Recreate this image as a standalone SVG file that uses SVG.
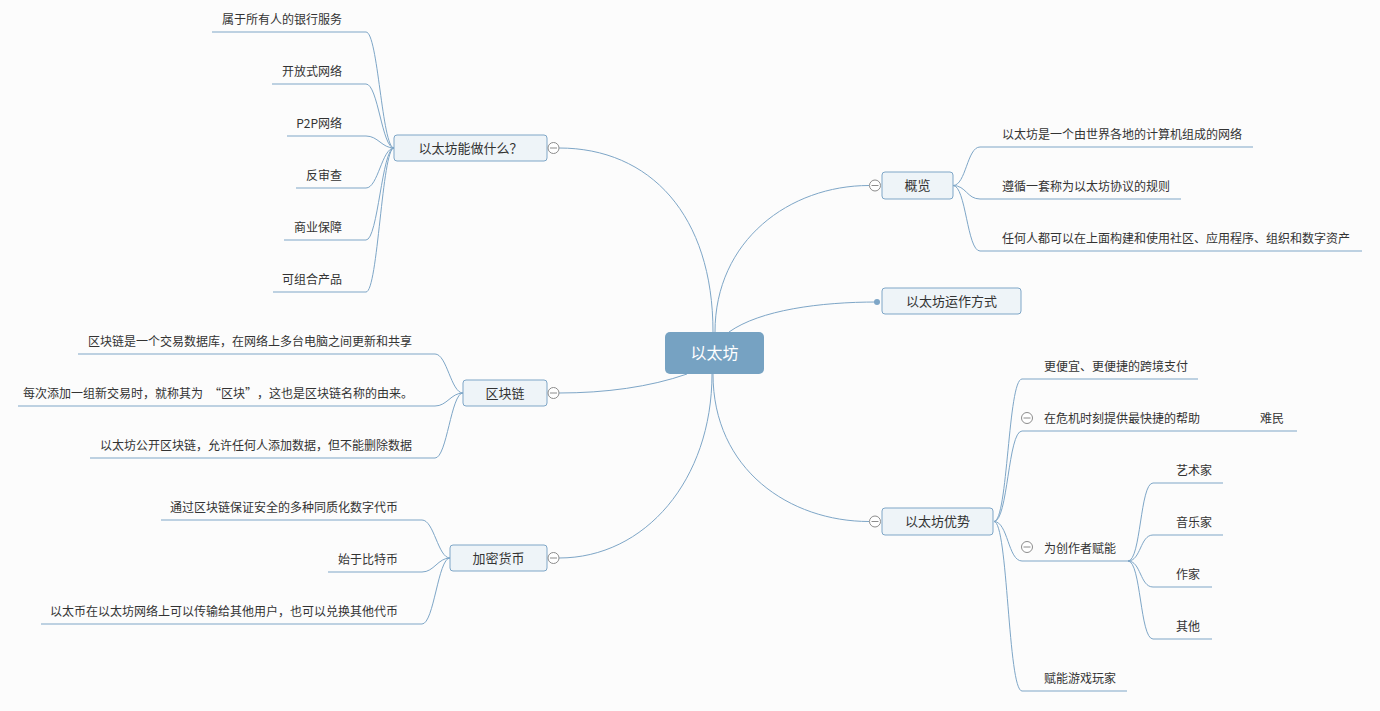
<svg xmlns="http://www.w3.org/2000/svg" width="1380" height="711" viewBox="0 0 1380 711">
<style>
.bg{fill:#fcfcfc}
.ln{fill:none;stroke:#7ea6c7;stroke-width:1}
.topic{fill:#eef4f8;stroke:#7ea6c7;stroke-width:1}
.center{fill:#76a2c2}
.tt{font-family:"Noto Sans CJK SC","Noto Sans",sans-serif;font-size:13px;fill:#333;text-anchor:middle}
.ct{font-family:"Noto Sans CJK SC","Noto Sans",sans-serif;font-size:16px;fill:#ffffff;text-anchor:middle}
.st{font-family:"Noto Sans CJK SC","Noto Sans",sans-serif;font-size:12px;fill:#333}
.end{text-anchor:end}
.col circle{fill:#fff;stroke:#8c8c8c;stroke-width:1}
.col line{stroke:#8c8c8c;stroke-width:1}
</style>
<defs>
<g id="minus" class="col"><circle cx="0" cy="0" r="5.5"/><line x1="-3.5" y1="0" x2="3.5" y2="0"/></g>
</defs>
<rect class="bg" x="0" y="0" width="1380" height="711"/>

<g id="connectors">
  <path class="ln" d="M713,332 C713,215 650,148 559,148"/>
  <path class="ln" d="M687,374 C650,387 605,393 559,393"/>
  <path class="ln" d="M712,374 C712,480 645,558 559,558"/>
  <path class="ln" d="M715,332 C715,240 790,185.5 869,185.5"/>
  <path class="ln" d="M729,332 C760,310 820,302 877,302"/>
  <path class="ln" d="M713,374 C713,470 790,521.5 869,521.5"/>
  <path class="ln" d="M394,148 C382,148 378,32 366,32 H212"/>
  <path class="ln" d="M394,148 C382,148 378,84 366,84 H272"/>
  <path class="ln" d="M394,148 C382,148 378,136 366,136 H287"/>
  <path class="ln" d="M394,148 C382,148 378,188 366,188 H296"/>
  <path class="ln" d="M394,148 C382,148 378,240 366,240 H284"/>
  <path class="ln" d="M394,148 C382,148 378,292 366,292 H273"/>
  <path class="ln" d="M463,393 C451,393 447,354 435,354 H78"/>
  <path class="ln" d="M463,393 C451,393 447,406 435,406 H18"/>
  <path class="ln" d="M463,393 C451,393 447,458 435,458 H90"/>
  <path class="ln" d="M450,558 C438,558 434,520 422,520 H161"/>
  <path class="ln" d="M450,558 C438,558 434,572 422,572 H328"/>
  <path class="ln" d="M450,558 C438,558 434,624 422,624 H41"/>
  <path class="ln" d="M953,185.5 C966,185.5 967,147 980,147 H1253"/>
  <path class="ln" d="M953,185.5 C966,185.5 967,199 980,199 H1181"/>
  <path class="ln" d="M953,185.5 C966,185.5 967,251 980,251 H1362"/>
  <path class="ln" d="M994,521.5 C1008,521.5 1008,379 1022,379 H1198"/>
  <path class="ln" d="M994,521.5 C1008,521.5 1008,431 1022,431 H1297"/>
  <path class="ln" d="M994,521.5 C1008,521.5 1008,561 1022,561 H1128"/>
  <path class="ln" d="M994,521.5 C1008,521.5 1008,691 1022,691 H1127"/>
  <path class="ln" d="M1128,561 C1141,561 1140,483 1153,483 H1223"/>
  <path class="ln" d="M1128,561 C1141,561 1140,535 1153,535 H1223"/>
  <path class="ln" d="M1128,561 C1141,561 1140,587 1153,587 H1212"/>
  <path class="ln" d="M1128,561 C1141,561 1140,639 1153,639 H1212"/>
</g>

<g id="node-center">
  <rect class="center" x="665" y="332" width="99" height="42" rx="5"/>
  <text class="ct" x="714.5" y="359">以太坊</text>
</g>

<g id="node-what">
  <rect class="topic" x="394" y="135" width="153" height="26" rx="3"/>
  <text class="tt" x="470.5" y="152.5">以太坊能做什么？</text>
  <use href="#minus" x="553.5" y="148"/>
</g>
<g id="node-what-children">
  <text class="st end" x="342" y="24">属于所有人的银行服务</text>
  <text class="st end" x="342" y="76">开放式网络</text>
  <text class="st end" x="342" y="128">P2P网络</text>
  <text class="st end" x="342" y="180">反审查</text>
  <text class="st end" x="342" y="232">商业保障</text>
  <text class="st end" x="342" y="284">可组合产品</text>
</g>

<g id="node-blockchain">
  <rect class="topic" x="463" y="380" width="84" height="26" rx="3"/>
  <text class="tt" x="505" y="397.5">区块链</text>
  <use href="#minus" x="553.5" y="393"/>
</g>
<g id="node-blockchain-children">
  <text class="st end" x="412" y="346">区块链是一个交易数据库，在网络上多台电脑之间更新和共享</text>
  <text class="st end" x="413" y="398">每次添加一组新交易时，就称其为<tspan dx="6">“</tspan>区块”<tspan dx="6">，</tspan>这也是区块链名称的由来。</text>
  <text class="st end" x="412" y="450">以太坊公开区块链，允许任何人添加数据，但不能删除数据</text>
</g>

<g id="node-crypto">
  <rect class="topic" x="450" y="545" width="97" height="26" rx="3"/>
  <text class="tt" x="498.5" y="562.5">加密货币</text>
  <use href="#minus" x="553.5" y="558"/>
</g>
<g id="node-crypto-children">
  <text class="st end" x="398" y="512">通过区块链保证安全的多种同质化数字代币</text>
  <text class="st end" x="398" y="564">始于比特币</text>
  <text class="st end" x="398" y="616">以太币在以太坊网络上可以传输给其他用户，也可以兑换其他代币</text>
</g>

<g id="node-overview">
  <rect class="topic" x="882" y="172" width="71" height="27" rx="3"/>
  <text class="tt" x="917.5" y="190">概览</text>
  <use href="#minus" x="875" y="185.5"/>
</g>
<g id="node-overview-children">
  <text class="st" x="1002" y="139">以太坊是一个由世界各地的计算机组成的网络</text>
  <text class="st" x="1002" y="191">遵循一套称为以太坊协议的规则</text>
  <text class="st" x="1002" y="243">任何人都可以在上面构建和使用社区、应用程序、组织和数字资产</text>
</g>

<g id="node-how">
  <rect class="topic" x="882" y="288" width="139" height="26" rx="3"/>
  <text class="tt" x="951.5" y="306">以太坊运作方式</text>
  <circle cx="877" cy="302" r="3" fill="#7ea6c7"/>
</g>

<g id="node-advantage">
  <rect class="topic" x="882" y="508" width="111" height="27" rx="3"/>
  <text class="tt" x="937.5" y="526">以太坊优势</text>
  <use href="#minus" x="875" y="521.5"/>
</g>
<g id="node-advantage-children">
  <text class="st" x="1044" y="371">更便宜、更便捷的跨境支付</text>
  <use href="#minus" x="1027" y="418"/>
  <text class="st" x="1044" y="423">在危机时刻提供最快捷的帮助</text>
  <text class="st" x="1260" y="423">难民</text>
  <use href="#minus" x="1027" y="547"/>
  <text class="st" x="1044" y="553">为创作者赋能</text>
  <text class="st" x="1044" y="683">赋能游戏玩家</text>
</g>
<g id="node-creator-children">
  <text class="st" x="1176" y="475">艺术家</text>
  <text class="st" x="1176" y="527">音乐家</text>
  <text class="st" x="1176" y="579">作家</text>
  <text class="st" x="1176" y="631">其他</text>
</g>
</svg>
